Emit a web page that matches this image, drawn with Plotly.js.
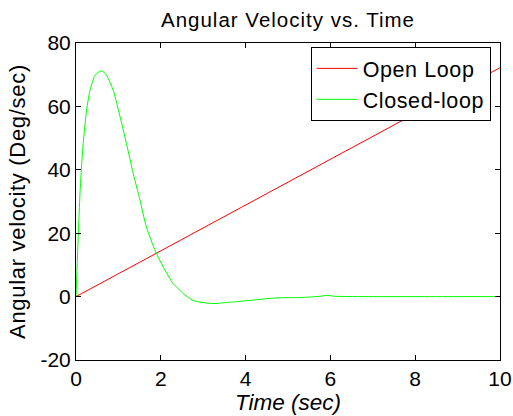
<!DOCTYPE html>
<html>
<head>
<meta charset="utf-8">
<script src="https://cdn.plot.ly/plotly-3.0.1.min.js"></script>
<style>
html,body{margin:0;padding:0;background:#fff;}
#chart{width:513px;height:416px;}
.gtitle{letter-spacing:1px;}
.ytitle{letter-spacing:0.7px;}
.legendtext{letter-spacing:0.6px;}
</style>
</head>
<body>
<div id="chart"></div>
<script>
const openT = [0, 10];
const openV = [0, 72.2];

const closedT = [0, 0.03, 0.055, 0.094, 0.13, 0.17, 0.25, 0.33, 0.45, 0.59, 0.7, 0.76, 0.88, 1.04, 1.19, 1.35, 1.51, 1.66, 1.88, 2.06, 2.29, 2.45, 2.53, 2.76, 3.0, 3.23, 3.45, 3.7, 4.1, 4.73, 5.28, 5.75, 5.9, 6.1, 7, 8, 9, 10];
const closedV = [0, 11, 19.9, 32.5, 41, 48.3, 58.8, 65, 69.8, 71.2, 70.3, 68.8, 65, 56.7, 48.3, 38.8, 30.4, 22, 14.1, 9.3, 4.1, 2, 0.9, -1.2, -1.9, -2.2, -2.0, -1.7, -1.2, -0.4, -0.3, 0.1, 0.4, 0.1, 0, 0, 0, 0];

const xTicks = [0, 2, 4, 6, 8, 10];
const yTicks = [-20, 0, 20, 40, 60, 80];

const FONT = 'Liberation Sans, Arial, Helvetica, sans-serif';

const traces = [
  {x: openT, y: openV, mode: 'lines', name: 'Open Loop', line: {color: '#ff0000', width: 1}},
  {x: closedT, y: closedV, mode: 'lines', name: 'Closed-loop', line: {color: '#00ff00', width: 1, shape: 'spline', smoothing: 0.7}}
];

const axisCommon = {
  showgrid: false, zeroline: false, showline: true, linecolor: '#000', linewidth: 1,
  mirror: 'ticks', ticks: 'inside', ticklen: 5, tickcolor: '#000', tickwidth: 1,
  tickfont: {family: FONT, size: 21, color: '#000'}
};

const layout = {
  width: 513, height: 416,
  paper_bgcolor: '#fff', plot_bgcolor: '#fff',
  margin: {l: 76, r: 13, t: 43, b: 56},
  showlegend: true,
  title: {text: 'Angular Velocity vs. Time', font: {family: FONT, size: 20.5, color: '#000'}, x: 0.5, xref: 'paper', y: 0.953, yanchor: 'middle'},
  xaxis: Object.assign({}, axisCommon, {
    range: [0, 10], tickvals: xTicks, ticktext: xTicks.map(String),
    title: {text: '<i>Time (sec)</i>', font: {family: FONT, size: 22.5, color: '#000'}, standoff: 4}
  }),
  yaxis: Object.assign({}, axisCommon, {
    range: [-20, 80], tickvals: yTicks, ticktext: yTicks.map(String),
    title: {text: 'Angular velocity (Deg/sec)', font: {family: FONT, size: 22, color: '#000'}, standoff: 8}
  }),
  legend: {
    x: 0.978, xanchor: 'right', y: 0.871, yanchor: 'middle',
    bgcolor: '#fff', bordercolor: '#000', borderwidth: 1,
    font: {family: FONT, size: 21.5, color: '#000'},
    itemwidth: 41, tracegroupgap: 0
  }
};

Plotly.newPlot('chart', traces, layout, {displayModeBar: false, staticPlot: true});
</script>
</body>
</html>
